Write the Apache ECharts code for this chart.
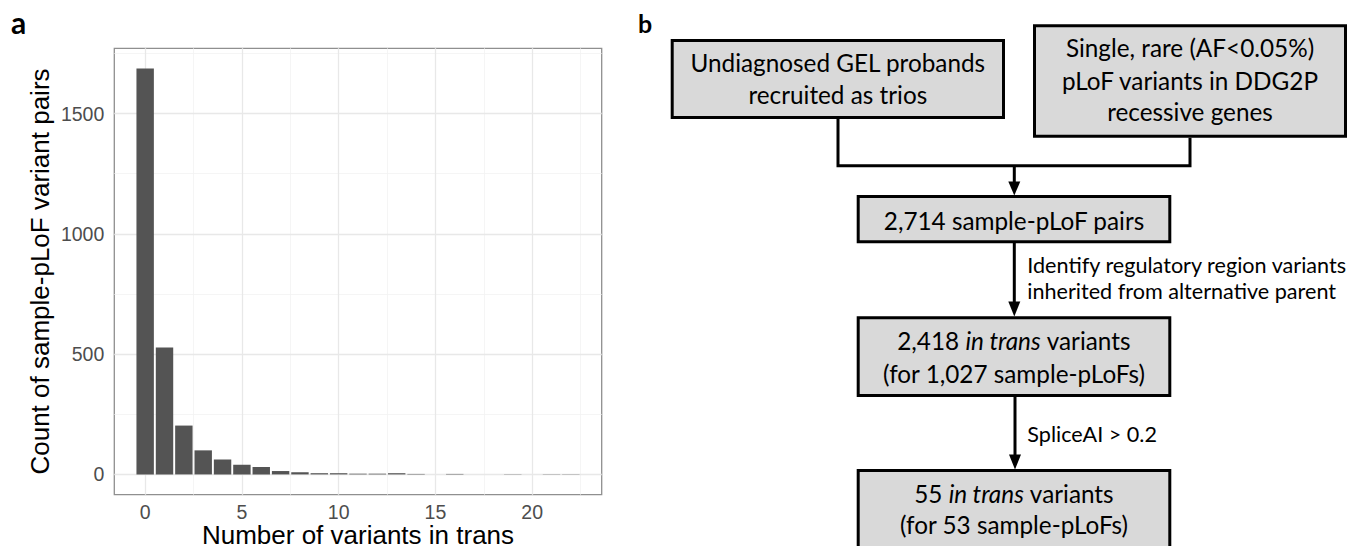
<!DOCTYPE html>
<html><head><meta charset="utf-8">
<script src="https://cdn.jsdelivr.net/npm/echarts@6.0.0/dist/echarts.min.js"></script>
<style>html,body{margin:0;padding:0;background:#fff}#c{width:1353px;height:546px}</style>
</head><body><div id="c"></div>
<script>
// ---- data ----
const bins   = [0,1,2,3,4,5,6,7,8,9,10,11,12,13,14,15,16,17,18,19,20,21,22];
const counts = [1687,528,203,100,62,40,31,14,9,5,5,3,3,5,2,0,2,0,0,1,0,1,1];
const xTicks = [0,5,10,15,20];
const yTicks = [0,500,1000,1500];
const xMinor = [2.5,7.5,12.5,17.5,22.5];
const yMinor = [250,750,1250,1750];
const xTitle = 'Number of variants in trans';
const yTitle = 'Count of sample-pLoF variant pairs';
const panelLabels = ['a','b'];
const boxTop1 = ['Undiagnosed GEL probands','recruited as trios'];
const boxTop2 = ['Single, rare (AF<0.05%)','pLoF variants in DDG2P','recessive genes'];
const boxMid  = ['2,714 sample-pLoF pairs'];
const boxTrans = ['2,418 {i|in trans} variants','(for 1,027 sample-pLoFs)'];
const boxFinal = ['55 {i|in trans} variants','(for 53 sample-pLoFs)'];
const step1 = ['Identify regulatory region variants','inherited from alternative parent'];
const step2 = ['SpliceAI > 0.2'];

// ---- helpers ----
const FF = 'Lato';
const BOXFS = 24.3, SIDEFS = 21.6;
function rect(x0,y0,x1,y1){
  return {type:'rect', shape:{x:x0+1.5,y:y0+1.5,width:x1-x0-3,height:y1-y0-3},
    style:{fill:'#d9d9d9',stroke:'#000',lineWidth:3}, z:10};
}
function txt(s,x,y,fs,align){
  return {type:'text', x:x, y:y, z:12, style:{text:s, fontFamily:FF, fontSize:fs, fill:'#000',
    align:align||'center', verticalAlign:'middle',
    rich:{i:{fontStyle:'italic', fontFamily:FF, fontSize:fs, fill:'#000'}}}};
}
function line(pts){
  return {type:'polyline', shape:{points:pts}, z:9, style:{stroke:'#000', lineWidth:3, fill:null}};
}
function head(x,y0,y1){
  return {type:'polygon', shape:{points:[[x-6,y0],[x+6,y0],[x,y1]]}, z:9, style:{fill:'#000'}};
}
function lines(arr, cx, baselines, fs, align){
  return arr.map((s,i)=>txt(s,cx,baselines[i]-0.33*fs,fs,align));
}

const g = [];
g.push({type:'text', x:11, y:21.5, style:{text:panelLabels[0], fontFamily:FF, fontWeight:'bold', fontSize:30, fill:'#000', verticalAlign:'middle'}});
g.push({type:'text', x:638, y:23, style:{text:panelLabels[1], fontFamily:FF, fontWeight:'bold', fontSize:25, fill:'#000', verticalAlign:'middle'}});
// connectors
g.push(line([[838,119],[838,165.7],[1190,165.7],[1190,137.7]]));
g.push(line([[1014.3,165.7],[1014.3,183]]));
g.push(head(1014.3,181.5,195.5));
g.push(line([[1014.3,243],[1014.3,303]]));
g.push(head(1014.3,301.5,316.5));
g.push(line([[1015,397],[1015,456]]));
g.push(head(1015,454.5,469.5));
// boxes
g.push(rect(670.7,39,1005,119));
g.push(rect(1033,24.3,1347,137.7));
g.push(rect(856.7,195,1171.3,243.3));
g.push(rect(856.7,316.3,1171.3,397));
g.push(rect(856.7,469,1171.3,550));
// texts
g.push(...lines(boxTop1, 837.8, [71,102.3], BOXFS));
g.push(...lines(boxTop2, 1190, [56,88.3,120], BOXFS));
g.push(...lines(boxMid, 1014, [228.3], BOXFS));
g.push(...lines(boxTrans, 1014, [348.7,381.3], BOXFS));
g.push(...lines(boxFinal, 1014, [501.3,533], BOXFS));
g.push(...lines(step1, 1027.3, [271.7,298], SIDEFS, 'left'));
g.push(...lines(step2, 1027.3, [441.3], SIDEFS, 'left'));

const majorStyle = {color:'#e8e8e8', width:1.3, type:'solid'};
const minorStyle = {color:'#f3f3f3', width:0.8, type:'solid'};
const gridMarks = [
  ...yMinor.map(v=>({yAxis:v, lineStyle:minorStyle})),
  ...xMinor.map(v=>({xAxis:v, lineStyle:minorStyle})),
  ...yTicks.map(v=>({yAxis:v, lineStyle:majorStyle})),
  ...xTicks.map(v=>({xAxis:v, lineStyle:majorStyle}))
];

const labelStyle = {color:'#4d4d4d', fontSize:19.5, fontFamily:'Liberation Sans'};
const plain = v => String(v);
const option = {
  animation:false,
  backgroundColor:'#fff',
  grid:{left:114.3, top:48.3, width:487.4, height:446.4, containLabel:false, outerBoundsMode:'none',
    show:true, borderColor:'#8f8f8f', borderWidth:1.3, backgroundColor:'#fff', z:0},
  xAxis:{type:'value', min:-1.595, max:23.595,
    axisLine:{show:false}, splitLine:{show:false},
    axisTick:{show:true, length:5, lineStyle:{color:'#555'}, customValues:xTicks},
    axisLabel:{...labelStyle, margin:8, lineHeight:18, customValues:xTicks, formatter:plain},
    name:xTitle, nameLocation:'middle', nameGap:29.5, nameMoveOverlap:false,
    nameTextStyle:{fontSize:26, lineHeight:22, color:'#000', fontFamily:'Liberation Sans', verticalAlign:'top'}},
  yAxis:{type:'value', min:-84.35, max:1771.35,
    axisLine:{show:false}, splitLine:{show:false},
    axisTick:{show:true, length:5, lineStyle:{color:'#555'}, customValues:yTicks},
    axisLabel:{...labelStyle, margin:10, customValues:yTicks, formatter:plain},
    name:yTitle, nameLocation:'middle', nameGap:61, nameRotate:90, nameMoveOverlap:false,
    nameTextStyle:{fontSize:26, color:'#000', fontFamily:'Liberation Sans'}},
  series:[
    {type:'line', data:[], z:1, zlevel:0, silent:true,
      markLine:{silent:true, symbol:'none', z:1, label:{show:false}, animation:false, data:gridMarks}},
    {type:'custom', z:20, zlevel:0,
      data:bins.map((b,i)=>[b,counts[i]]),
      renderItem:function(params, api){
        const x = api.value(0), v = api.value(1);
        const p1 = api.coord([x-0.45, v]);
        const p2 = api.coord([x+0.45, 0]);
        return {type:'rect', shape:{x:p1[0], y:p1[1], width:p2[0]-p1[0], height:p2[1]-p1[1]},
          style:{fill:'#545454'}};
      }}
  ],
  graphic:{elements:g}
};
const chart = echarts.init(document.getElementById('c'), null, {renderer:'svg'});
chart.setOption(option);
</script></body></html>
